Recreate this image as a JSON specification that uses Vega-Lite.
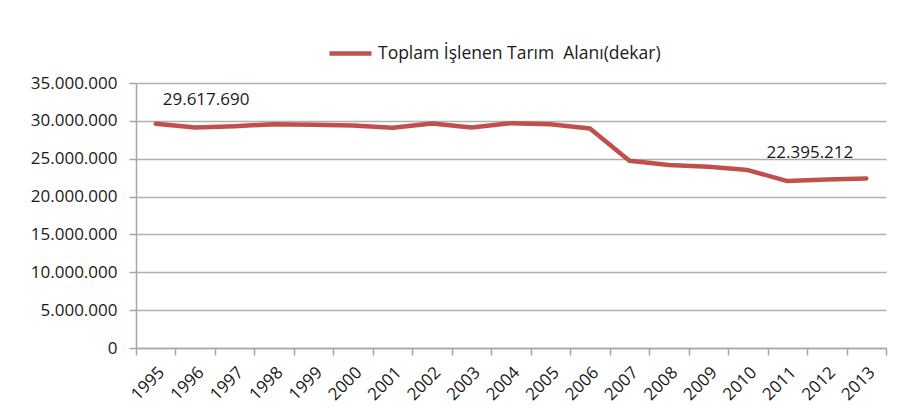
{
  "$schema": "https://vega.github.io/schema/vega-lite/v6.json",
  "width": 750,
  "height": 265,
  "autosize": {"type": "none"},
  "padding": {"left": 136, "top": 83, "right": 38, "bottom": 65},
  "background": "white",
  "config": {
    "locale": {"number": {"decimal": ",", "thousands": ".", "grouping": [3], "currency": ["", ""]}},
    "view": {"stroke": null},
    "font": "Open Sans",
    "axis": {"labelColor": "#1a1a1a", "domainColor": "#a6a6a6", "tickColor": "#a6a6a6", "gridColor": "#b0b0b0", "domainWidth": 1.5, "tickWidth": 1.5, "gridWidth": 1.5}
  },
  "data": {"values": [
    {"year": "1995", "value": 29617690},
    {"year": "1996", "value": 29130000},
    {"year": "1997", "value": 29300000},
    {"year": "1998", "value": 29560000},
    {"year": "1999", "value": 29470000},
    {"year": "2000", "value": 29390000},
    {"year": "2001", "value": 29080000},
    {"year": "2002", "value": 29660000},
    {"year": "2003", "value": 29130000},
    {"year": "2004", "value": 29700000},
    {"year": "2005", "value": 29560000},
    {"year": "2006", "value": 29000000},
    {"year": "2007", "value": 24730000},
    {"year": "2008", "value": 24160000},
    {"year": "2009", "value": 23940000},
    {"year": "2010", "value": 23500000},
    {"year": "2011", "value": 22050000},
    {"year": "2012", "value": 22270000},
    {"year": "2013", "value": 22395212}
  ]},
  "encoding": {
    "x": {
      "field": "year", "type": "ordinal",
      "scale": {"type": "band", "paddingInner": 0, "paddingOuter": 0},
      "axis": {"title": null, "labelAngle": -45, "tickBand": "extent", "tickSize": 7, "labelFontSize": 17, "labelPadding": 9, "grid": false}
    },
    "y": {
      "field": "value", "type": "quantitative",
      "scale": {"domain": [0, 35000000], "nice": false},
      "axis": {"title": null, "values": [0, 5000000, 10000000, 15000000, 20000000, 25000000, 30000000, 35000000], "format": ",d", "tickSize": 7, "labelPadding": 12, "labelFontSize": 17, "grid": true}
    }
  },
  "layer": [
    {
      "mark": {"type": "line", "strokeWidth": 4.5, "strokeJoin": "round", "strokeCap": "round"},
      "encoding": {
        "color": {
          "datum": "Toplam İşlenen Tarım\u00a0 Alanı(dekar)",
          "scale": {"range": ["#c0504d"]},
          "legend": {
            "title": null, "orient": "none", "legendX": 191, "legendY": -53, "padding": 0,
            "symbolType": "stroke", "symbolStrokeWidth": 4.5, "symbolSize": 1764, "labelOffset": 4,
            "labelFontSize": 17.5, "labelColor": "#1a1a1a", "labelLimit": 0
          }
        }
      }
    },
    {
      "transform": [{"filter": "datum.year == '1995'"}],
      "mark": {"type": "text", "align": "left", "baseline": "middle", "dx": 7, "dy": -24, "fontSize": 17, "color": "#1a1a1a"},
      "encoding": {"text": {"field": "value", "type": "quantitative", "format": ",d"}}
    },
    {
      "transform": [{"filter": "datum.year == '2013'"}],
      "mark": {"type": "text", "align": "right", "baseline": "middle", "dx": -13, "dy": -25, "fontSize": 17, "color": "#1a1a1a"},
      "encoding": {"text": {"field": "value", "type": "quantitative", "format": ",d"}}
    }
  ]
}
